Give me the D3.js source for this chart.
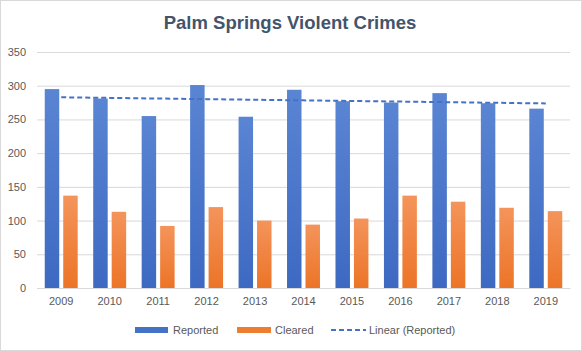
<!DOCTYPE html>
<html><head><meta charset="utf-8">
<script src="https://cdn.jsdelivr.net/npm/d3@7"></script>
<style>body{margin:0;background:#fff}svg{display:block}</style>
</head><body>
<script>
const years = ["2009","2010","2011","2012","2013","2014","2015","2016","2017","2018","2019"];
const reported = [295,281,255,301,254,294,277,275,289,274,266];
const cleared = [137,113,92,120,100,94,103,137,128,119,114];
const yTicks = [0,50,100,150,200,250,300,350];
const title = "Palm Springs Violent Crimes";

const W=582,H=351;
const svg=d3.select("body").append("svg").attr("width",W).attr("height",H);
svg.append("rect").attr("x",0.5).attr("y",0.5).attr("width",W-1).attr("height",H-1).attr("fill","#fff").attr("stroke","#D9D9D9");
const defs=svg.append("defs");
function grad(id,top,bot){const g=defs.append("linearGradient").attr("id",id).attr("x1",0).attr("y1",0).attr("x2",0).attr("y2",1);
g.append("stop").attr("offset","0%").attr("stop-color",top);g.append("stop").attr("offset","100%").attr("stop-color",bot);}
grad("gb","#5A85D3","#3D69C2");grad("go","#F4945B","#EC7427");

const font="'Liberation Sans', Arial, sans-serif";
const L=37,R=570,T=52,B=288;
const x=d3.scaleBand().domain(years).range([L,R]);
const xs=d3.scaleBand().domain(["r","c"]).range([0,x.bandwidth()]).paddingInner(0.216).paddingOuter(0.42);
const y=d3.scaleLinear().domain([0,350]).range([B,T]);

svg.append("text").attr("x",290).attr("y",29).attr("text-anchor","middle").attr("font-family",font).attr("font-weight","bold").attr("font-size",18.5).attr("fill","#44546A").text(title);

const yAxis=d3.axisLeft(y).tickValues(yTicks).tickSize(-(R-L)).tickPadding(11);
const ga=svg.append("g").attr("transform",`translate(${L},0)`).call(yAxis);
ga.select(".domain").remove();
ga.selectAll("line").attr("stroke","#D9D9D9");
ga.selectAll("text").attr("font-family",font).attr("font-size",11).attr("fill","#595959");

const xAxis=d3.axisBottom(x).tickSize(0).tickPadding(9);
const gx=svg.append("g").attr("transform",`translate(0,${B})`).call(xAxis);
gx.select(".domain").attr("stroke","#D9D9D9");
gx.selectAll("text").attr("font-family",font).attr("font-size",11).attr("fill","#595959");

svg.append("g").selectAll("rect").data(years).join("rect")
 .attr("x",d=>x(d)+xs("r")).attr("width",xs.bandwidth())
 .attr("y",(d,i)=>y(reported[i])).attr("height",(d,i)=>B-y(reported[i])).attr("fill","url(#gb)");
svg.append("g").selectAll("rect").data(years).join("rect")
 .attr("x",d=>x(d)+xs("c")).attr("width",xs.bandwidth())
 .attr("y",(d,i)=>y(cleared[i])).attr("height",(d,i)=>B-y(cleared[i])).attr("fill","url(#go)");

// linear trend
const n=reported.length, mx=(n-1)/2, my=d3.mean(reported);
let sxy=0,sxx=0; reported.forEach((v,i)=>{sxy+=(i-mx)*(v-my);sxx+=(i-mx)*(i-mx);});
const slope=sxy/sxx, icpt=my-slope*mx;
const trend=years.map((d,i)=>[x(d)+x.bandwidth()/2, y(icpt+slope*i)]);
svg.append("path").attr("d",d3.line()(trend)).attr("fill","none").attr("stroke","#4472C4").attr("stroke-width",2).attr("stroke-dasharray","5,3");

// legend
const lg=svg.append("g").attr("font-family",font).attr("font-size",11).attr("fill","#595959");
lg.append("rect").attr("x",135).attr("y",327).attr("width",33).attr("height",6).attr("fill","#4472C4");
lg.append("text").attr("x",173).attr("y",334).text("Reported");
lg.append("rect").attr("x",237).attr("y",327).attr("width",34).attr("height",6).attr("fill","#ED7D31");
lg.append("text").attr("x",275).attr("y",334).text("Cleared");
lg.append("line").attr("x1",331).attr("x2",366).attr("y1",330).attr("y2",330).attr("stroke","#4472C4").attr("stroke-width",2).attr("stroke-dasharray","5,3");
lg.append("text").attr("x",369).attr("y",334).text("Linear (Reported)");
</script>
</body></html>
